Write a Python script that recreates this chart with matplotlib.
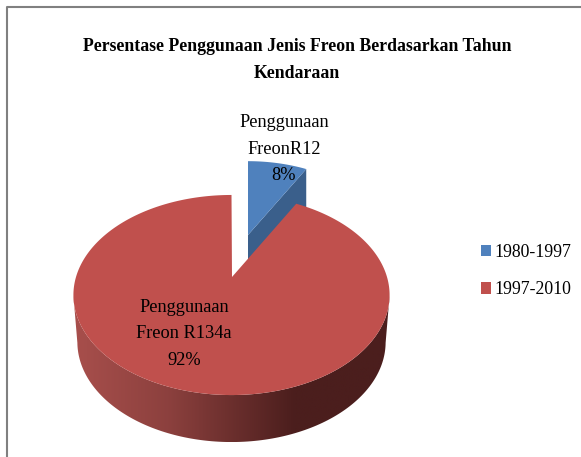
import numpy as np
import matplotlib
matplotlib.use('Agg')
import matplotlib.pyplot as plt
from matplotlib.patches import Polygon, Patch

plt.rcParams['font.family'] = ['Liberation Serif', 'DejaVu Sans']

title = 'Persentase Penggunaan Jenis Freon Berdasarkan Tahun\nKendaraan'
categories = ['1980-1997', '1997-2010']
values = [8, 92]
names = ['Penggunaan\nFreonR12', 'Penggunaan\nFreon R134a']
blue = '#4f81bd'
blue_side = '#3a5f8b'
red = '#c0504d'


# disc point with a bit of perspective, angle is clockwise from 12 o'clock
def disc(theta, x0, y0, scale=1.0):
    w = 1 + 0.18 * np.cos(theta)
    x = x0 + scale * 155.5 * np.sin(theta) / w
    y = y0 - scale * 96.8 * np.cos(theta) / w
    return x, y


fig = plt.figure(figsize=(5.81, 4.57), dpi=100)
ax = fig.add_axes([0, 0, 1, 1])
ax.set_xlim(0, 581)
ax.set_ylim(457, 0)
ax.axis('off')

split = 2 * np.pi * values[0] / sum(values)

# blue slice, pulled out
bt = np.linspace(0, split, 30)
bx, by = disc(bt, 248, 235, 0.9)
depth_b = 40
ax.add_patch(Polygon([(248, 235), (248, 235 + depth_b), (bx[-1], by[-1] + depth_b), (bx[-1], by[-1])],
                     fc=blue_side, ec='none', zorder=2))
ax.add_patch(Polygon(np.r_[[[248, 235]], np.c_[bx, by]], fc=blue, ec='none', zorder=3))

# red slice side wall with shading, the lower rim is a little narrower
depth_r = 47
cx = 231.5
rt = np.linspace(split, 2 * np.pi, 300)
rx, ry = disc(rt, cx, 277)
low = ry >= 295
lx, ly = rx[low], ry[low]
wall = np.r_[np.c_[lx, ly], np.c_[cx + (lx - cx) * 0.975, ly + depth_r][::-1]]
grad = np.interp(np.linspace(0, 1, 256), [0, 0.3, 0.7, 1], [0, 0.3, 1, 1])
c1 = np.array([0xa8, 0x4f, 0x4c]) / 255
c2 = np.array([0x4b, 0x1e, 0x1d]) / 255
img = (c1[None, :] * (1 - grad[:, None]) + c2[None, :] * grad[:, None])[None, :, :]
im = ax.imshow(img, extent=(lx.min(), lx.max(), ly.max() + depth_r, ly.min()), aspect='auto', zorder=4)
clip = Polygon(wall, transform=ax.transData, fc='none', ec='none')
ax.add_patch(clip)
im.set_clip_path(clip)
ax.set_xlim(0, 581)
ax.set_ylim(457, 0)

# red slice top
ax.add_patch(Polygon(np.r_[[[232, 277]], np.c_[rx, ry]], fc=red, ec='none', zorder=5))

# frame, only top and left show
ax.plot([581, 7, 7], [6.5, 6.5, 457], color='#808080', lw=1.5, zorder=1)

ax.text(297, 60, title, ha='center', va='center', fontsize=12.75, fontweight='bold',
        linespacing=1.82, color='black', zorder=6)
ax.text(284, 149, f'{names[0]}\n{values[0]}%', ha='center', va='center', fontsize=13.2,
        linespacing=1.72, zorder=6)
ax.text(184, 334, f'{names[1]}\n{values[1]}%', ha='center', va='center', fontsize=13.2,
        linespacing=1.72, zorder=6)

handles = [Patch(fc=blue, ec='none'), Patch(fc=red, ec='none')]
ax.legend(handles, categories, loc='center left', bbox_to_anchor=(481 / 581, 1 - 271 / 457),
          frameon=False, fontsize=12.8, handlelength=0.56, handleheight=0.65, handletextpad=0.22,
          labelspacing=1.15, borderpad=0, borderaxespad=0)

fig.savefig('out.png', dpi=100)
